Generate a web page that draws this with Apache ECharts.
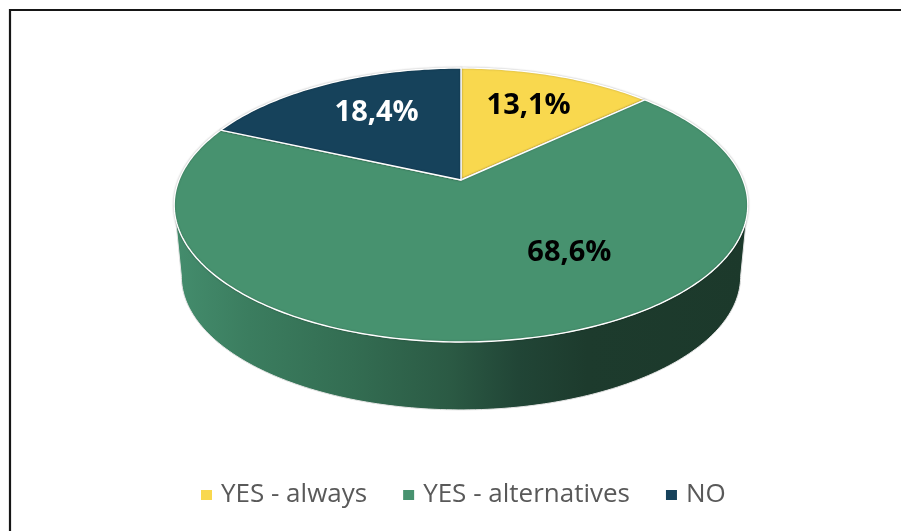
<!DOCTYPE html>
<html>
<head>
<meta charset="utf-8">
<script src="https://cdn.jsdelivr.net/npm/echarts@6/dist/echarts.min.js"></script>
<style>
  html, body { margin: 0; padding: 0; background: #fff; }
  #chart { width: 901px; height: 531px; }
</style>
</head>
<body>
<div id="chart"></div>
<script>
// Survey answers, in clockwise order from 12 o'clock
const categories = ['YES - always', 'YES - alternatives', 'NO'];
const shares = [13.1, 68.6, 18.4];
const sliceColors = ['#F9D84E', '#47926F', '#16425B'];
const labelColors = ['#000000', '#000000', '#FFFFFF'];

// Tilted disc: perspective projection of a unit circle onto the page
const disc = { cx: 461, cy: 180, ax: 282, by: 132.4, k: 0.1825, depth: 72, baseScale: 0.975 };
// Label placement: radius fraction along the slice bisector plus a small nudge
const labelRadius = 0.7;
const labelNudge = [[-3, 2], [71, -32], [13, 3]];

const total = shares.reduce((a, b) => a + b, 0);
const offsets = shares.map((_, i) => shares.slice(0, i).reduce((a, b) => a + b, 0));

function project(theta, r, bottom) {
  const u = r * Math.sin(theta);
  const v = -r * Math.cos(theta);
  const w = 1 - disc.k * v;
  const s = bottom ? disc.baseScale : 1;
  return [
    disc.cx + s * disc.ax * u / w,
    disc.cy + (bottom ? disc.depth : 0) + s * disc.by * v / w
  ];
}

function arc(a0, a1, bottom) {
  const pts = [];
  const n = Math.max(2, Math.ceil(Math.abs(a1 - a0) / (Math.PI / 180)));
  for (let j = 0; j <= n; j++) {
    pts.push(project(a0 + (a1 - a0) * j / n, 1, bottom));
  }
  return pts;
}

// angles (clockwise from top) where the rim meets the side silhouette
const rimRight = Math.acos(-disc.k);
const rimLeft = 2 * Math.PI - rimRight;
const xLeft = project(rimLeft, 1, false)[0];
const xRight = project(rimRight, 1, false)[0];

const sideFill = new echarts.graphic.LinearGradient(xLeft, 0, xRight, 0, [
  { offset: 0, color: '#448D6D' },
  { offset: 0.13, color: '#3B7D5F' },
  { offset: 0.31, color: '#336D52' },
  { offset: 0.48, color: '#2B5A44' },
  { offset: 0.6, color: '#214536' },
  { offset: 0.72, color: '#1D3B2D' },
  { offset: 1, color: '#1C392B' }
], true);

function renderSlice(params, api) {
  const value = api.value(0);
  const start = api.value(1) / api.value(2) * 2 * Math.PI;
  const end = (api.value(1) + value) / api.value(2) * 2 * Math.PI;
  const color = api.visual('color');
  const i = params.seriesIndex;
  const children = [];

  // front wall, where this slice faces the viewer
  const lo = Math.max(start, rimRight);
  const hi = Math.min(end, rimLeft);
  if (hi > lo) {
    const wall = arc(lo, hi, false).concat(arc(hi, lo, true));
    children.push({
      type: 'polygon',
      shape: { points: wall },
      style: { fill: sideFill, stroke: '#E4E4E4', lineWidth: 1 }
    });
  }

  // top face
  const face = [project(0, 0, false)].concat(arc(start, end, false));
  children.push({
    type: 'polygon',
    shape: { points: face },
    style: {
      fill: color, stroke: '#FFFFFF', lineWidth: 1.4, lineJoin: 'round',
      shadowBlur: 2, shadowColor: 'rgba(0,0,0,0.25)'
    }
  });

  // value label
  const mid = (start + end) / 2;
  const p = project(mid, labelRadius, false);
  children.push({
    type: 'text',
    x: p[0] + labelNudge[i][0],
    y: p[1] + labelNudge[i][1],
    style: {
      text: value.toFixed(1).replace('.', ',') + '%',
      fill: labelColors[i],
      font: 'bold 29px "Open Sans", sans-serif',
      align: 'center',
      verticalAlign: 'middle'
    }
  });

  return { type: 'group', children: children };
}

const chart = echarts.init(document.getElementById('chart'), null, { renderer: 'canvas' });

chart.setOption({
  backgroundColor: '#FFFFFF',
  animation: false,
  graphic: [{
    type: 'rect',
    shape: { x: 10, y: 10, width: 1200, height: 1200 },
    style: { fill: 'none', stroke: '#161616', lineWidth: 2.2 },
    silent: true
  }],
  legend: {
    left: 201,
    top: 480,
    padding: 0,
    icon: 'rect',
    itemWidth: 11,
    itemHeight: 10,
    itemGap: 36,
    selectedMode: false,
    data: categories.map((name, i) => ({ name: name, itemStyle: { color: sliceColors[i] } })),
    textStyle: {
      fontFamily: '"Open Sans", sans-serif',
      fontSize: 26,
      color: '#595959',
      lineHeight: 30,
      padding: [0, 0, 0, 4]
    }
  },
  series: categories.map((name, i) => ({
    name: name,
    type: 'custom',
    coordinateSystem: 'none',
    itemStyle: { color: sliceColors[i] },
    data: [[shares[i], offsets[i], total]],
    renderItem: renderSlice
  }))
});
</script>
</body>
</html>
